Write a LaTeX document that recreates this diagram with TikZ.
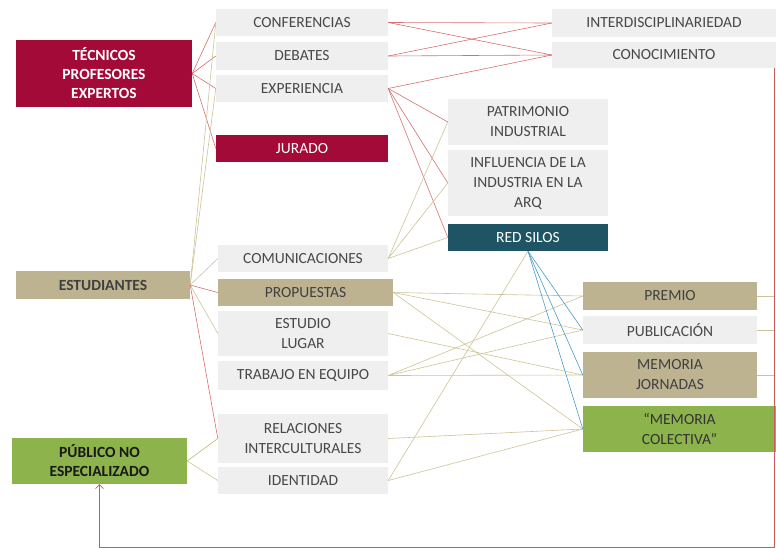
\documentclass[tikz,border=0pt]{standalone}
\usepackage{fontspec}
\setmainfont{Carlito}
\usetikzlibrary{arrows.meta, positioning}
\definecolor{dred}{RGB}{163,10,55}
\definecolor{lgray}{RGB}{239,239,239}
\definecolor{khaki}{RGB}{190,179,145}
\definecolor{dteal}{RGB}{30,84,100}
\definecolor{lgreen}{RGB}{141,179,76}
\definecolor{tgray}{RGB}{72,72,72}
\definecolor{lred}{RGB}{214,112,112}
\definecolor{lkhaki}{RGB}{205,195,150}
\definecolor{lblue}{RGB}{70,155,195}
\definecolor{lgrn}{RGB}{170,192,110}
\definecolor{fbred}{RGB}{205,90,90}

\begin{document}
\begin{tikzpicture}[x=1pt, y=-1pt,
  box/.style={
    rectangle, inner sep=2pt, align=center,
    font=\fontsize{15.5}{20}\selectfont
  },
  graybox/.style={box, fill=lgray, text=tgray},
  redbox/.style={box, fill=dred, text=white},
  khakibox/.style={box, fill=khaki, text=black!75},
  tealbox/.style={box, fill=dteal, text=white},
  greenbox/.style={box, fill=lgreen, text=black!80},
  rline/.style={draw=lred, line width=0.6pt},
  kline/.style={draw=lkhaki, line width=0.6pt},
  bline/.style={draw=lblue, line width=0.6pt},
  gline/.style={draw=lgrn, line width=0.6pt},
  fbline/.style={draw=fbred, line width=0.7pt, -{Straight Barb[length=4pt]}}
]
  \useasboundingbox (0,0) rectangle (776,547);

  % left column
  \node[redbox, font=\fontsize{15.5}{19}\selectfont\bfseries, minimum width=176pt, minimum height=67pt] (tec) at (104,73.5) {TÉCNICOS\\PROFESORES\\EXPERTOS};
  \node[khakibox, font=\fontsize{15.5}{20}\selectfont\bfseries, minimum width=174pt, minimum height=28pt] (est) at (103,285) {ESTUDIANTES};
  \node[greenbox, font=\fontsize{15.5}{19}\selectfont\bfseries, text=black!90, minimum width=175pt, minimum height=46pt] (pub) at (99.5,461) {PÚBLICO NO\\ESPECIALIZADO};

  % middle column
  \node[graybox, minimum width=172pt, minimum height=27pt] (conf) at (302,22.5) {CONFERENCIAS};
  \node[graybox, minimum width=172pt, minimum height=28pt] (deb) at (302,56) {DEBATES};
  \node[graybox, minimum width=172pt, minimum height=27pt] (exp) at (302,88.5) {EXPERIENCIA};
  \node[redbox, minimum width=172pt, minimum height=27pt] (jur) at (302,148.5) {JURADO};
  \node[graybox, minimum width=170pt, minimum height=27pt] (com) at (303,258.5) {COMUNICACIONES};
  \node[khakibox, minimum width=175pt, minimum height=27pt] (prop) at (305.5,292.5) {PROPUESTAS};
  \node[graybox, minimum width=170pt, minimum height=45pt] (estu) at (303,333.5) {ESTUDIO\\LUGAR};
  \node[graybox, minimum width=170pt, minimum height=29pt] (trab) at (303,375.5) {TRABAJO EN EQUIPO};
  \node[graybox, minimum width=170pt, minimum height=49pt] (rel) at (303,438.5) {RELACIONES\\INTERCULTURALES};
  \node[graybox, minimum width=170pt, minimum height=27pt] (ide) at (303,480.5) {IDENTIDAD};

  % centre column
  \node[graybox, minimum width=160pt, minimum height=46pt] (patr) at (528,122) {PATRIMONIO\\INDUSTRIAL};
  \node[graybox, minimum width=160pt, minimum height=66pt] (infl) at (528,183) {INFLUENCIA DE LA\\INDUSTRIA EN LA\\ARQ};
  \node[tealbox, minimum width=160pt, minimum height=27pt] (red) at (528,237.5) {RED SILOS};

  % right column
  \node[graybox, minimum width=224pt, minimum height=28pt] (inter) at (664,23) {INTERDISCIPLINARIEDAD};
  \node[graybox, minimum width=224pt, minimum height=26pt] (cono) at (664,55) {CONOCIMIENTO};
  \node[khakibox, minimum width=174pt, minimum height=28pt] (prem) at (670,296) {PREMIO};
  \node[graybox, minimum width=174pt, minimum height=28pt] (publ) at (670,330) {PUBLICACIÓN};
  \node[khakibox, minimum width=174pt, minimum height=46pt] (memj) at (670,375) {MEMORIA\\JORNADAS};
  \node[greenbox, minimum width=193pt, minimum height=46pt] (memc) at (679.5,429) {“MEMORIA\\COLECTIVA”};

  % tecnicos
  \draw[rline] (tec.east) -- (conf.west);
  \draw[rline] (tec.east) -- (deb.west);
  \draw[rline] (tec.east) -- (exp.west);
  \draw[rline] (tec.east) -- (jur.west);

  % estudiantes
  \draw[kline] (est.east) -- (conf.west);
  \draw[kline] (est.east) -- (exp.west);
  \draw[kline] (est.east) -- (com.west);
  \draw[rline] (est.east) -- (prop.west);
  \draw[kline] (est.east) -- (estu.west);
  \draw[rline] (est.east) -- (rel.west);

  % publico
  \draw[gline] (pub.east) -- (rel.west);
  \draw[kline] (pub.east) -- (ide.west);

  % to the right column
  \draw[rline] (conf.east) -- (inter.west);
  \draw[rline] (conf.east) -- (cono.west);
  \draw[rline] (deb.east) -- (inter.west);
  \draw[rline] (deb.east) -- (cono.west);
  \draw[rline] (exp.east) -- (cono.west);
  \draw[rline] (exp.east) -- (patr.west);
  \draw[rline] (exp.east) -- (infl.west);
  \draw[rline] (exp.east) -- (red.west);
  \draw[kline] (com.east) -- (patr.west);
  \draw[kline] (com.east) -- (infl.west);
  \draw[kline] (com.east) -- (red.west);

  % results
  \draw[kline] (prop.east) -- (prem.west);
  \draw[kline] (prop.east) -- (publ.west);
  \draw[kline] (prop.east) -- (memc.west);
  \draw[kline] (estu.east) -- (memj.west);
  \draw[kline] (trab.east) -- (prem.west);
  \draw[kline] (trab.east) -- (publ.west);
  \draw[kline] (trab.east) -- (memj.west);
  \draw[kline] (rel.east) -- (memc.west);
  \draw[kline] (ide.east) -- (memc.west);
  \draw[kline] (ide.east) -- (red.south);
  \draw[bline] (red.south) -- (publ.west);
  \draw[bline] (red.south) -- (memj.west);
  \draw[bline] (red.south) -- (memc.west);

  % feedback
  \coordinate (fb) at (774,300);
  \draw[kline] (prem.east) -- (prem.east -| fb);
  \draw[kline] (publ.east) -- (publ.east -| fb);
  \draw[kline] (memj.east) -- (memj.east -| fb);
  \draw[fbline] ([xshift=-2pt]cono.south east) -- ++(0,479) -| (pub.south);
\end{tikzpicture}
\end{document}
